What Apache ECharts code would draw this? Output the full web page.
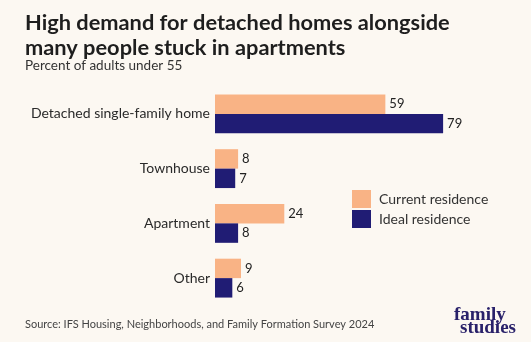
<!DOCTYPE html>
<html><head><meta charset="utf-8">
<script src="https://cdn.jsdelivr.net/npm/echarts@6/dist/echarts.min.js"></script>
<style>html,body{margin:0;padding:0;background:#fcf8f2;}#c{width:531px;height:342px;}</style>
</head><body><div id="c"></div>
<script>
const categories = ["Detached single-family home", "Townhouse", "Apartment", "Other"];
const currentResidence = [59, 8, 24, 9];
const idealResidence = [79, 7, 8, 6];
const seriesNames = ["Current residence", "Ideal residence"];

const chart = echarts.init(document.getElementById('c'));
const font = 'Lato, "Open Sans", sans-serif';
chart.setOption({
  backgroundColor: '#fcf8f2',
  animation: false,
  textStyle: { fontFamily: font },
  title: [
    { text: 'High demand for detached homes alongside\nmany people stuck in apartments', left: 20, top: 5,
      textStyle: { fontFamily: font, fontSize: 21.8, fontWeight: 'bold', color: '#1e1e1e', lineHeight: 25 } },
    { text: 'Percent of adults under 55', left: 20, top: 54,
      textStyle: { fontFamily: font, fontSize: 13.5, fontWeight: 'normal', color: '#333' } },
    { text: 'Source: IFS Housing, Neighborhoods, and Family Formation Survey 2024', left: 20, top: 314,
      textStyle: { fontFamily: font, fontSize: 11, fontWeight: 'normal', color: '#444' } }
  ],
  legend: {
    orient: 'vertical', left: 347, top: 185, itemWidth: 19, itemHeight: 18, itemGap: 2,
    icon: 'rect', data: seriesNames,
    textStyle: { fontFamily: font, fontSize: 14, color: '#333', padding: [0, 0, 0, 3] }
  },
  grid: { left: 215, top: 86.5, width: 231, height: 219, containLabel: false },
  xAxis: { type: 'value', min: 0, max: 80, show: false },
  yAxis: {
    type: 'category', data: categories, inverse: true,
    axisLine: { show: false }, axisTick: { show: false },
    axisLabel: { fontFamily: font, fontSize: 14, color: '#2a2a2a', margin: 5 }
  },
  series: [
    { name: seriesNames[0], type: 'bar', data: currentResidence, barGap: '0%', barCategoryGap: '29%',
      itemStyle: { color: '#f9b385' },
      label: { show: true, position: 'right', distance: 4, fontFamily: font, fontSize: 13, color: '#222' } },
    { name: seriesNames[1], type: 'bar', data: idealResidence,
      itemStyle: { color: '#201c74' },
      label: { show: true, position: 'right', distance: 4, fontFamily: font, fontSize: 13, color: '#222' } }
  ],
  graphic: [
    { type: 'text', left: 454, top: 306, style: { text: 'family', font: 'bold 19px "Liberation Serif", serif', fill: '#29216a' } },
    { type: 'text', left: 460, top: 319, style: { text: 'studies', font: 'bold 19px "Liberation Serif", serif', fill: '#29216a' } }
  ]
});
</script></body></html>
